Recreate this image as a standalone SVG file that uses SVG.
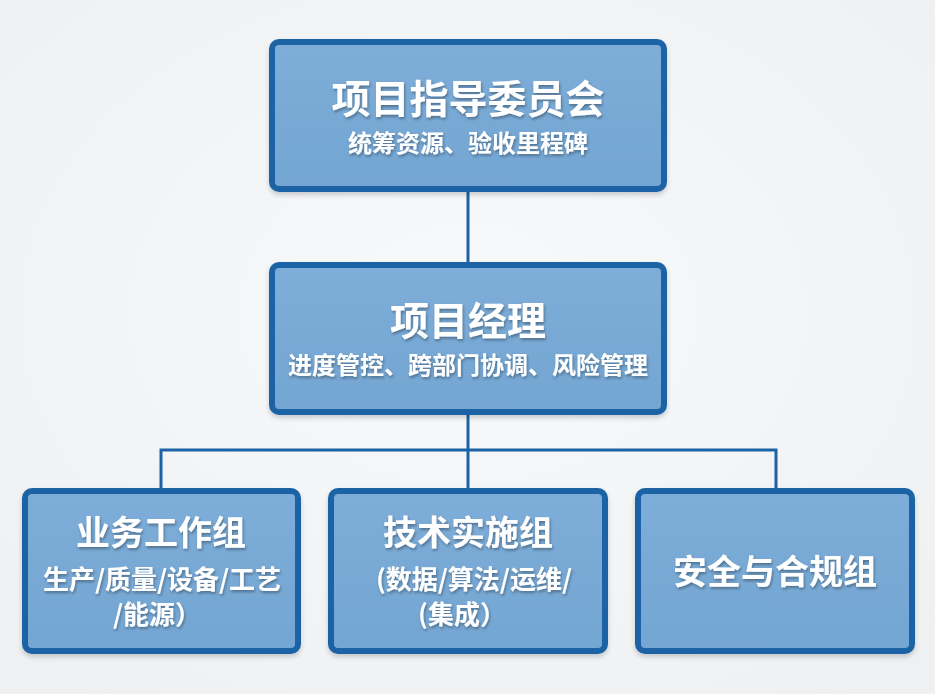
<svg xmlns="http://www.w3.org/2000/svg" width="935" height="694" viewBox="0 0 935 694">
<defs>
<radialGradient id="bg" cx="50%" cy="45%" r="70%">
<stop offset="0" stop-color="#f8f9fa"/>
<stop offset="1" stop-color="#eef0f2"/>
</radialGradient>
<linearGradient id="boxfill" x1="0" y1="0" x2="0" y2="1">
<stop offset="0" stop-color="#7dadd8"/>
<stop offset="1" stop-color="#74a6d3"/>
</linearGradient>
<filter id="ts" x="-10%" y="-20%" width="120%" height="150%">
<feGaussianBlur in="SourceAlpha" stdDeviation="1.5"/>
<feOffset dx="1" dy="2" result="b"/>
<feComponentTransfer><feFuncA type="linear" slope="0.35"/></feComponentTransfer>
<feMerge><feMergeNode/><feMergeNode in="SourceGraphic"/></feMerge>
</filter>
<filter id="bs" x="-5%" y="-5%" width="110%" height="115%">
<feGaussianBlur in="SourceAlpha" stdDeviation="2.5"/>
<feOffset dx="0" dy="3"/>
<feComponentTransfer><feFuncA type="linear" slope="0.18"/></feComponentTransfer>
<feMerge><feMergeNode/><feMergeNode in="SourceGraphic"/></feMerge>
</filter>
</defs>
<style>
.box{fill:url(#boxfill);stroke:#1c63a6;stroke-width:6;}
.t{font-family:"Noto Sans CJK SC","Noto Sans",sans-serif;font-weight:bold;fill:#ffffff;text-anchor:middle;filter:url(#ts);}
.h1{font-size:39px;}
.h2{font-size:34px;}
.s1{font-size:24px;}
.s2{font-size:26px;}
.conn{fill:none;stroke:#1c63a6;stroke-width:3;}
</style>
<rect width="935" height="694" fill="url(#bg)"/>
<g id="connectors">
<path class="conn" d="M468 190 V263"/>
<path class="conn" d="M468 413 V450"/>
<path class="conn" d="M161 490 V450 H776 V490"/>
<path class="conn" d="M468 450 V490"/>
</g>
<g id="steering">
<rect class="box" x="272" y="42" width="392" height="147" rx="7" filter="url(#bs)"/>
<text class="t h1" x="468" y="113">项目指导委员会</text>
<text class="t s1" x="468" y="152">统筹资源、验收里程碑</text>
</g>
<g id="pm">
<rect class="box" x="272" y="265" width="392" height="147" rx="7" filter="url(#bs)"/>
<text class="t h1" x="468" y="335">项目经理</text>
<text class="t s1" x="468" y="374">进度管控、跨部门协调、风险管理</text>
</g>
<g id="business">
<rect class="box" x="25" y="491" width="273" height="160" rx="7" filter="url(#bs)"/>
<text class="t h2" x="161" y="545">业务工作组</text>
<text class="t s2" x="162" y="589">生产/质量/设备/工艺</text>
<text class="t s2" x="157" y="624">/能源）</text>
</g>
<g id="tech">
<rect class="box" x="331" y="491" width="274" height="160" rx="7" filter="url(#bs)"/>
<text class="t h2" x="468" y="545">技术实施组</text>
<text class="t s2" x="474" y="589">(数据/算法/运维/</text>
<text class="t s2" x="462" y="624">(集成）</text>
</g>
<g id="security">
<rect class="box" x="638" y="491" width="274" height="160" rx="7" filter="url(#bs)"/>
<text class="t h2" x="775" y="584">安全与合规组</text>
</g>
</svg>
